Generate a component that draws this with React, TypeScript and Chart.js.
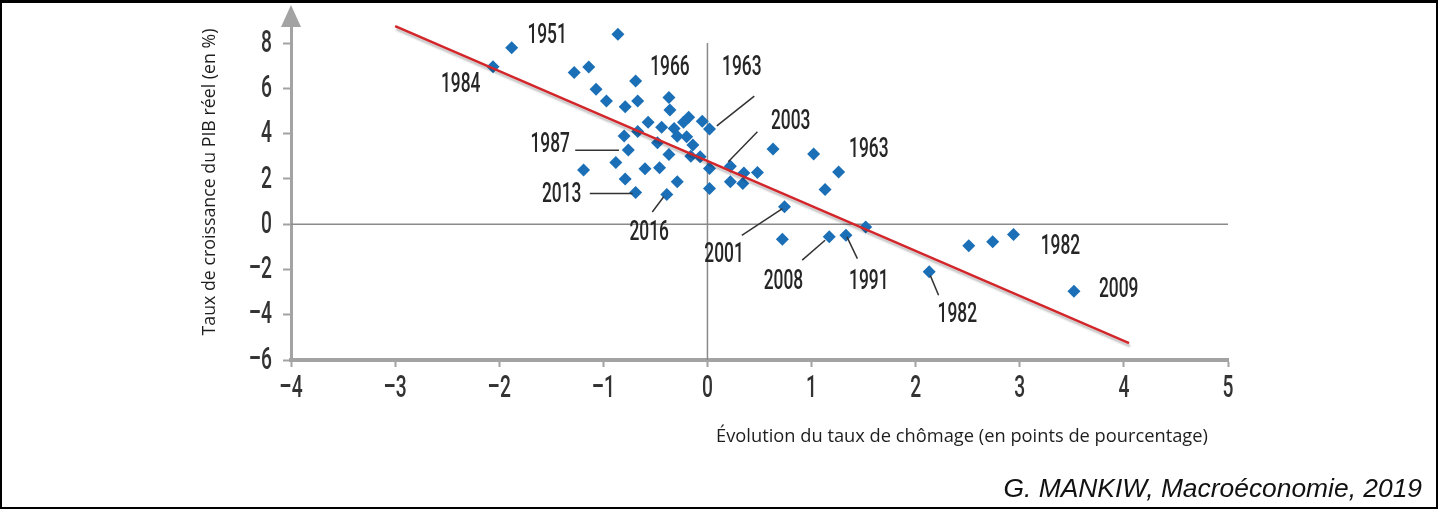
import React, { useEffect, useRef } from 'react';
import { Chart, registerables } from 'chart.js';

Chart.register(...registerables);

// Change in unemployment rate (percentage points) — x
const unemploymentChange = [
  -2.06, -1.88, -0.86, -1.28, -1.14, -1.07, -0.97, -0.69, -0.79, -0.67,
  -0.37, -0.36, -0.57, -0.44, -0.67, -0.8, -0.76, -0.48, -0.37, -0.32,
  -0.29, -0.23, -0.18, -0.2, -0.14, -0.16, -0.07, -0.05, 0.02, 0.02,
  0.02, -1.19, -0.88, -0.79, -0.69, -0.6, -0.46, -0.29, -0.39, 0.22,
  0.22, 0.35, 0.34, 0.48, 0.63, 1.02, 1.26, 1.13, 0.74, 0.72,
  1.17, 1.33, 1.52, 2.13, 2.51, 2.74, 2.94, 3.52,
];
// Real GDP growth (%) — y
const gdpGrowth = [
  6.96, 7.8, 8.39, 6.7, 6.95, 5.96, 5.44, 6.33, 5.19, 5.44,
  5.6, 5.04, 4.5, 4.28, 4.1, 3.9, 3.28, 3.6, 3.08, 4.23,
  3.89, 4.5, 4.72, 3.86, 3.5, 3.0, 2.98, 4.55, 4.2, 2.46,
  1.58, 2.39, 2.73, 2.0, 1.4, 2.45, 2.49, 1.87, 1.31, 2.56,
  1.87, 2.26, 1.8, 2.28, 3.32, 3.1, 2.31, 1.53, 0.77, -0.66,
  -0.56, -0.49, -0.12, -2.1, -0.95, -0.78, -0.46, -2.96,
];

// Okun's law fitted line
const trendX = [-3, 4.05];
const trendY = [8.75, -5.25];

const xTicks = [-4, -3, -2, -1, 0, 1, 2, 3, 4, 5];
const yTicks = [-6, -4, -2, 0, 2, 4, 6, 8];

// Year labels (position of text centre, in data units)
const labelYears = ['1951', '1984', '1966', '1963', '2003', '1987', '2013', '2016', '1963', '2001', '2008', '1991', '1982', '1982', '2009'];
const labelX = [-1.54, -2.37, -0.36, 0.33, 0.8, -1.51, -1.4, -0.56, 1.55, 0.16, 0.73, 1.55, 2.4, 3.39, 3.95];
const labelY = [8.32, 6.15, 6.89, 6.9, 4.53, 3.5, 1.31, -0.37, 3.27, -1.37, -2.55, -2.55, -4.03, -1.0, -2.92];

// Leader lines (from/to, data units)
const leaderX1 = [0.09, 0.2, -1.27, -1.13, -0.53, 0.33, 0.91, 1.34, 2.14];
const leaderY1 = [4.34, 2.76, 3.27, 1.36, 0.54, -0.49, -1.59, -0.56, -2.26];
const leaderX2 = [0.45, 0.48, -0.85, -0.72, -0.42, 0.72, 1.13, 1.44, 2.22];
const leaderY2 = [5.66, 4.08, 3.27, 1.36, 1.21, 0.69, -0.71, -1.52, -3.14];

const X_TITLE = 'Évolution du taux de chômage (en points de pourcentage)';
const Y_TITLE = 'Taux de croissance du PIB réel (en %)';
const SOURCE = 'G. MANKIW, Macroéconomie, 2019';

const W = 1438;
const H = 509;

function condText(ctx: CanvasRenderingContext2D, text: string, x: number, y: number, size: number, sx: number, align: CanvasTextAlign, color: string) {
  ctx.save();
  ctx.translate(x, y);
  ctx.scale(sx, 1);
  ctx.font = `500 ${size}px Roboto`;
  ctx.fillStyle = color;
  ctx.textAlign = align;
  ctx.textBaseline = 'middle';
  ctx.fillText(text, 0, 0);
  ctx.restore();
}

const decorPlugin = {
  id: 'decor',
  beforeDatasetsDraw(chart: any) {
    const ctx = chart.ctx as CanvasRenderingContext2D;
    const xs = chart.scales.x;
    const ys = chart.scales.y;
    ctx.save();
    ctx.strokeStyle = '#8a8a8a';
    ctx.lineWidth = 1.5;
    ctx.beginPath();
    ctx.moveTo(xs.getPixelForValue(xTicks[0]), ys.getPixelForValue(0));
    ctx.lineTo(xs.getPixelForValue(xTicks[xTicks.length - 1]), ys.getPixelForValue(0));
    ctx.moveTo(xs.getPixelForValue(0), ys.getPixelForValue(yTicks[yTicks.length - 1]));
    ctx.lineTo(xs.getPixelForValue(0), ys.getPixelForValue(yTicks[0]));
    ctx.stroke();
    ctx.restore();
  },
  beforeDatasetDraw(chart: any, args: any) {
    const ctx = chart.ctx as CanvasRenderingContext2D;
    ctx.save();
    if (args.index === 0) {
      ctx.shadowColor = 'rgba(0,0,0,0.25)';
      ctx.shadowOffsetX = 1;
      ctx.shadowOffsetY = 3;
      ctx.shadowBlur = 2;
    }
  },
  afterDatasetDraw(chart: any) {
    chart.ctx.restore();
  },
  afterDraw(chart: any) {
    const ctx = chart.ctx as CanvasRenderingContext2D;
    const xs = chart.scales.x;
    const ys = chart.scales.y;
    const area = chart.chartArea;

    // arrow on top of y axis
    ctx.save();
    ctx.fillStyle = '#a3a3a3';
    ctx.beginPath();
    ctx.moveTo(area.left - 10, area.top + 2);
    ctx.lineTo(area.left + 10, area.top + 2);
    ctx.lineTo(area.left, area.top - 20);
    ctx.closePath();
    ctx.fill();
    ctx.restore();

    // leader lines
    ctx.save();
    ctx.strokeStyle = '#333';
    ctx.lineWidth = 1.5;
    for (let i = 0; i < leaderX1.length; i++) {
      ctx.beginPath();
      ctx.moveTo(xs.getPixelForValue(leaderX1[i]), ys.getPixelForValue(leaderY1[i]));
      ctx.lineTo(xs.getPixelForValue(leaderX2[i]), ys.getPixelForValue(leaderY2[i]));
      ctx.stroke();
    }
    ctx.restore();

    // year labels
    for (let i = 0; i < labelYears.length; i++) {
      condText(ctx, labelYears[i], xs.getPixelForValue(labelX[i]), ys.getPixelForValue(labelY[i]), 28, 0.62, 'center', '#262626');
    }

    // tick labels
    for (const v of xTicks) {
      const t = v < 0 ? '\u2013' + Math.abs(v) : String(v);
      condText(ctx, t, xs.getPixelForValue(v), area.bottom + 29, 31, 0.62, 'center', '#333');
    }
    for (const v of yTicks) {
      const t = v < 0 ? '\u2013' + Math.abs(v) : String(v);
      condText(ctx, t, area.left - 19, ys.getPixelForValue(v) + 1, 31, 0.62, 'right', '#333');
    }

    // axis titles
    ctx.save();
    ctx.fillStyle = '#1e1e1e';
    ctx.font = '18.3px "Open Sans"';
    ctx.textAlign = 'center';
    ctx.textBaseline = 'middle';
    ctx.fillText(X_TITLE, 962, 437);
    ctx.translate(210, 182);
    ctx.rotate(-Math.PI / 2);
    ctx.font = '17.8px "Open Sans"';
    ctx.fillText(Y_TITLE, 0, 0);
    ctx.restore();

    // source
    ctx.save();
    ctx.fillStyle = '#111';
    ctx.font = 'italic 26.4px "Liberation Sans"';
    ctx.textAlign = 'right';
    ctx.textBaseline = 'alphabetic';
    ctx.fillText(SOURCE, 1422, 497);
    ctx.restore();

    // frame
    ctx.save();
    ctx.strokeStyle = '#000';
    ctx.lineWidth = 2;
    ctx.strokeRect(1, 1, W - 2, H - 2);
    ctx.fillStyle = '#000';
    ctx.fillRect(0, 0, W, 3);
    ctx.restore();
  },
};

export default function App() {
  const ref = useRef<HTMLCanvasElement | null>(null);

  useEffect(() => {
    if (!ref.current) return;
    const points = unemploymentChange.map((x, i) => ({ x, y: gdpGrowth[i] }));
    const trend = trendX.map((x, i) => ({ x, y: trendY[i] }));
    const chart = new Chart(ref.current, {
      type: 'scatter',
      data: {
        datasets: [
          {
            type: 'line',
            label: 'Tendance',
            data: trend,
            borderColor: '#d3262b',
            borderWidth: 2.5,
            pointRadius: 0,
            fill: false,
          } as any,
          {
            label: 'Années',
            data: points,
            pointStyle: 'rectRot',
            pointRadius: 6.5,
            pointHoverRadius: 6.5,
            backgroundColor: '#1b6fb7',
            borderColor: '#1b6fb7',
            borderWidth: 0,
          },
        ],
      },
      options: {
        responsive: false,
        animation: false,
        events: [],
        layout: { padding: { left: 281, right: 210, top: 25, bottom: 139 } },
        plugins: {
          legend: { display: false },
          tooltip: { enabled: false },
          title: { display: false },
        },
        scales: {
          x: {
            type: 'linear',
            min: -4,
            max: 5,
            afterFit: (s: any) => { s.height = 10; },
            afterBuildTicks: (s: any) => { s.ticks = xTicks.map((v) => ({ value: v })); },
            ticks: { display: false },
            grid: { drawOnChartArea: false, drawTicks: true, tickLength: 7, tickColor: '#a3a3a3', tickWidth: 2 },
            border: { color: '#a3a3a3', width: 4 },
          },
          y: {
            type: 'linear',
            min: -6,
            max: 8.8,
            afterFit: (s: any) => { s.width = 10; },
            afterBuildTicks: (s: any) => { s.ticks = yTicks.map((v) => ({ value: v })); },
            ticks: { display: false },
            grid: { drawOnChartArea: false, drawTicks: true, tickLength: 8, tickColor: '#a3a3a3', tickWidth: 2 },
            border: { color: '#a3a3a3', width: 3 },
          },
        },
      },
      plugins: [decorPlugin],
    });
    return () => chart.destroy();
  }, []);

  return (
    <div style={{ position: 'absolute', left: 0, top: 0, width: W, height: H, background: '#fff' }}>
      <canvas ref={ref} width={W} height={H} style={{ display: 'block', width: W, height: H }} />
    </div>
  );
}
